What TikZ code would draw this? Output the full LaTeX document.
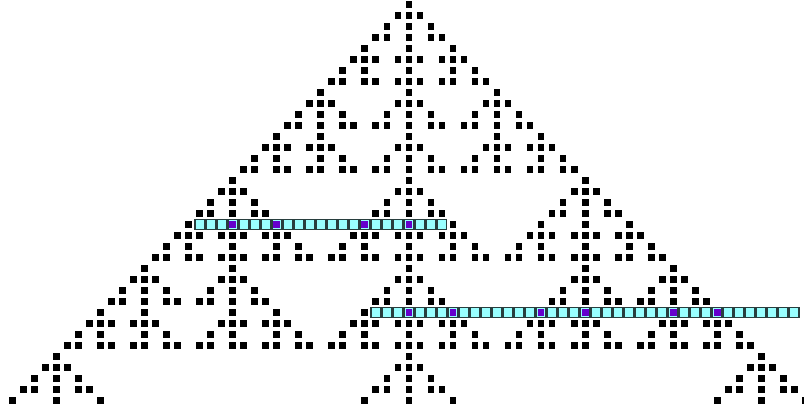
\documentclass[tikz,border=0pt]{standalone}
\usepackage{tikz}

% 1 if cell #2 of row #1 is alive, else 0
\newcommand\cv[2]{\ifcsname ca@#1@\the\numexpr#2\relax\endcsname 1\else 0\fi}

\begin{document}
\begin{tikzpicture}[x=0.4cm,y=-0.4cm,
        cell/.style={fill=black,inner sep=0pt,minimum size=0.2545cm},
        live/.style={fill={rgb,255:red,102;green,0;blue,204},inner sep=0pt,minimum size=0.2545cm},
        slot/.style={draw={rgb,255:red,40;green,62;blue,62},line width=1.2pt,
            fill={rgb,255:red,153;green,255;blue,255},inner sep=0pt,minimum size=0.4cm-1.2pt}
        ]
        \useasboundingbox (-37.182,-0.409) rectangle (35.909,36.773);

        %Run the automaton (rule 150) from one cell
        \expandafter\xdef\csname ca@0@0\endcsname{1}
        \foreach \n in {1,...,36}{
            \foreach \k in {-\n,...,\n}{
                \edef\p{\the\numexpr\n-1\relax}
                \edef\s{\the\numexpr\cv{\p}{\k-1}+\cv{\p}{\k}+\cv{\p}{\k+1}\relax}
                \ifodd\s\relax
                    \expandafter\xdef\csname ca@\n@\the\numexpr\k\relax\endcsname{1}
                \fi
            }
        }

        %The two marked rows
        \foreach \k in {-19,...,3} \node[slot] (a-\k) at (\k,20) {};
        \foreach \k in {-3,...,35} \node[slot] (b-\k) at (\k,28) {};

        %Cells
        \foreach \n in {0,...,36}{
            \foreach \k in {-\n,...,\n}{
                \ifnum\cv{\n}{\k}=1 \node[cell] (c-\n-\k) at (\k,\n) {};\fi
            }
        }
        \foreach \k in {-19,...,3}{
            \ifnum\cv{20}{\k}=1 \node[live] (a-\k-x) at (\k,20) {};\fi
        }
        \foreach \k in {-3,...,35}{
            \ifnum\cv{28}{\k}=1 \node[live] (b-\k-x) at (\k,28) {};\fi
        }
\end{tikzpicture}
\end{document}
